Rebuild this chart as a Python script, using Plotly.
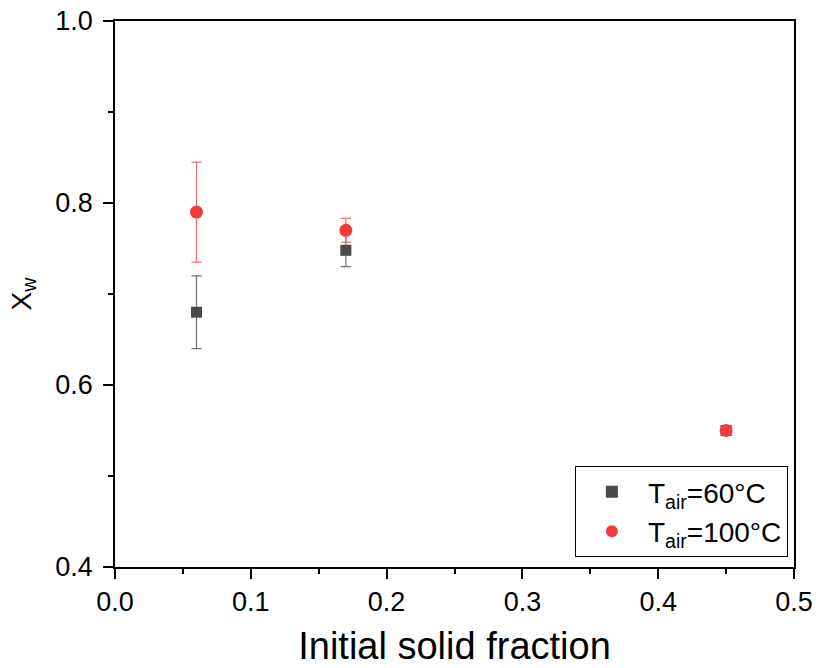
import plotly.graph_objects as go

# Initial solid fraction vs. final moisture X_w for two drying air temperatures
solid_fraction = [0.06, 0.17, 0.45]

xw_60 = [0.68, 0.748, 0.55]
err_60 = [0.04, 0.018, 0.003]

xw_100 = [0.79, 0.77, 0.55]
err_100 = [0.055, 0.013, 0.003]

x_ticks = [0.0, 0.1, 0.2, 0.3, 0.4, 0.5]
y_ticks = [0.4, 0.6, 0.8, 1.0]

FONT = "Arial, Liberation Sans, sans-serif"

fig = go.Figure()

fig.add_trace(go.Scatter(
    x=solid_fraction, y=xw_60, mode="markers",
    name="T<sub>air</sub>=60°C",
    marker=dict(symbol="square", size=11, color="#4a4a4a"),
    error_y=dict(type="data", array=err_60, color="#707070", thickness=1.2, width=5),
))

fig.add_trace(go.Scatter(
    x=solid_fraction, y=xw_100, mode="markers",
    name="T<sub>air</sub>=100°C",
    marker=dict(symbol="circle", size=13, color="#f03c3c"),
    error_y=dict(type="data", array=err_100, color="#f27070", thickness=1.2, width=5),
))

axis_common = dict(
    showline=True, linecolor="black", linewidth=1.5, mirror=True,
    ticks="outside", ticklen=10, tickwidth=1.5, tickcolor="black",
    showgrid=False, zeroline=False, automargin=False,
    tickfont=dict(family=FONT, size=27, color="black"),
)

fig.update_xaxes(
    range=[0, 0.5], tickvals=x_ticks, ticktext=[f"{v:.1f}" for v in x_ticks],
    minor=dict(ticks="outside", ticklen=5, tickwidth=1.5, tickcolor="black", dtick=0.05),
    title=dict(text="Initial solid fraction", standoff=16,
               font=dict(family=FONT, size=38, color="black")),
    **axis_common,
)
fig.update_yaxes(
    range=[0.4, 1.0], tickvals=y_ticks, ticktext=[f"{v:.1f}" for v in y_ticks],
    ticklabelstandoff=5,
    minor=dict(ticks="outside", ticklen=5, tickwidth=1.5, tickcolor="black", dtick=0.1),
    title=dict(text="X<sub>w</sub>", standoff=16,
               font=dict(family=FONT, size=28, color="black")),
    **axis_common,
)

fig.update_layout(
    width=816, height=668,
    margin=dict(l=115, r=22, t=21, b=101),
    plot_bgcolor="white", paper_bgcolor="white",
    showlegend=True,
    legend=dict(
        x=0.991, y=0.018, xanchor="right", yanchor="bottom",
        bordercolor="black", borderwidth=1, bgcolor="white",
        font=dict(family=FONT, size=28, color="black"),
        itemsizing="constant", itemwidth=62, tracegroupgap=0,
    ),
)

fig.write_html("out.html")
